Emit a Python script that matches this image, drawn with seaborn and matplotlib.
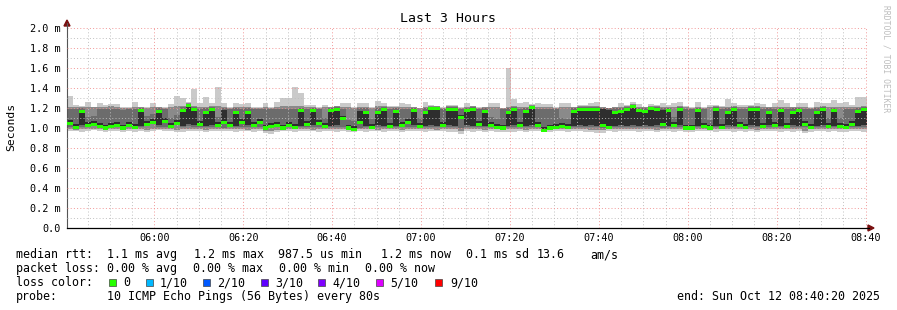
import numpy as np
import matplotlib
matplotlib.use("Agg")
import matplotlib.pyplot as plt
import seaborn as sns
from matplotlib.patches import Rectangle, Polygon
from matplotlib.lines import Line2D

# ---------------- data (ms), one value per 80 s step, 05:40:20 .. 08:40:20 ----------------
START = 20420          # 05:40:20 as seconds of day
STEP = 80

rtt_median = [
    1.05,1.01,1.17,1.03,1.04,1.02,1.00,1.02,1.03,1.00,1.03,1.01,1.18,1.04,1.06,1.17,1.07,1.02,1.05,1.18,1.23,1.19,1.04,1.16,1.19,1.03,1.06,
    1.03,1.16,1.06,1.16,1.03,1.06,1.00,1.02,1.03,1.00,1.03,1.01,1.18,1.04,1.18,1.05,1.02,1.18,1.19,1.10,1.00,0.99,1.06,1.16,1.01,1.16,1.19,
    1.02,1.17,1.03,1.06,1.18,1.02,1.16,1.20,1.20,1.03,1.19,1.19,1.11,1.18,1.19,1.04,1.17,1.03,1.01,1.00,1.16,1.19,1.03,1.17,1.21,1.03,0.98,
    1.00,1.01,1.02,1.01,1.17,1.19,1.19,1.19,1.19,1.03,1.01,1.16,1.17,1.19,1.22,1.18,1.17,1.20,1.19,1.04,1.18,1.03,1.19,1.00,1.00,1.18,1.02,
    1.00,1.19,1.01,1.16,1.19,1.03,1.01,1.19,1.19,1.02,1.16,1.03,1.18,1.02,1.16,1.18,1.04,1.01,1.16,1.19,1.02,1.18,1.02,1.01,1.04,1.17,1.19]

ping_max = [
    1.32,1.23,1.22,1.26,1.21,1.25,1.23,1.24,1.24,1.21,1.21,1.26,1.21,1.21,1.25,1.21,1.21,1.24,1.32,1.30,1.26,1.39,1.25,1.31,1.25,1.41,1.25,
    1.21,1.25,1.24,1.25,1.21,1.21,1.25,1.21,1.26,1.30,1.30,1.41,1.35,1.23,1.23,1.21,1.23,1.21,1.22,1.25,1.25,1.21,1.25,1.25,1.21,1.27,1.25,
    1.22,1.22,1.25,1.24,1.21,1.20,1.26,1.23,1.22,1.21,1.23,1.23,1.21,1.25,1.22,1.21,1.21,1.25,1.25,1.20,1.60,1.29,1.25,1.26,1.24,1.25,1.24,
    1.24,1.21,1.25,1.25,1.21,1.23,1.23,1.25,1.26,1.21,1.20,1.21,1.25,1.23,1.26,1.24,1.21,1.24,1.23,1.25,1.23,1.25,1.26,1.22,1.21,1.26,1.21,
    1.23,1.23,1.22,1.29,1.25,1.23,1.23,1.23,1.25,1.24,1.21,1.25,1.28,1.25,1.21,1.25,1.25,1.21,1.26,1.25,1.25,1.28,1.25,1.26,1.23,1.31,1.31]

ping_min = [
    0.97,0.97,0.96,0.97,0.98,0.97,0.96,0.97,0.97,0.96,0.97,0.96,0.97,0.96,0.97,0.98,0.97,0.97,0.96,0.96,0.97,0.97,0.97,0.96,0.97,0.97,0.97,
    0.97,0.96,0.97,0.97,0.96,0.97,0.95,0.94,0.96,0.97,0.97,0.96,0.97,0.97,0.97,0.96,0.97,0.97,0.96,0.97,0.96,0.96,0.97,0.96,0.97,0.97,0.96,
    0.97,0.97,0.96,0.97,0.97,0.97,0.96,0.97,0.97,0.97,0.96,0.96,0.94,0.97,0.96,0.97,0.96,0.97,0.96,0.96,0.96,0.96,0.97,0.96,0.97,0.97,0.96,
    0.96,0.97,0.97,0.96,0.97,0.97,0.96,0.96,0.95,0.95,0.97,0.96,0.97,0.97,0.97,0.96,0.97,0.97,0.96,0.97,0.97,0.96,0.97,0.96,0.96,0.97,0.97,
    0.97,0.96,0.97,0.97,0.96,0.97,0.96,0.97,0.96,0.97,0.97,0.97,0.96,0.97,0.96,0.97,0.95,0.96,0.97,0.97,0.96,0.97,0.96,0.96,0.97,0.97,0.96]

mid_lo = [
    0.99,0.98,0.99,0.99,0.99,0.99,0.98,0.99,0.99,0.98,0.99,0.99,0.99,0.98,0.99,0.99,0.99,0.99,0.98,0.99,0.99,0.99,0.99,0.98,0.99,0.99,0.99,
    0.99,0.99,0.99,0.98,0.99,0.99,0.97,0.97,0.98,0.98,0.99,0.99,0.99,0.99,0.98,0.99,0.99,0.99,0.99,0.99,0.98,0.98,0.99,0.99,0.99,0.98,0.99,
    0.99,0.99,0.98,0.99,0.99,0.99,0.99,0.99,0.98,0.99,0.99,0.99,0.97,0.99,0.99,0.99,0.98,0.99,0.99,0.98,0.99,0.99,0.99,0.98,0.99,0.99,0.98,
    0.98,0.99,0.99,0.99,0.99,0.99,0.99,0.98,0.98,0.98,0.99,0.99,0.99,0.99,0.99,0.99,0.99,0.99,0.98,0.99,0.99,0.99,0.99,0.98,0.98,0.99,0.99,
    0.98,0.99,0.99,0.99,0.99,0.99,0.99,0.99,0.98,0.99,0.99,0.99,0.99,0.99,0.99,0.99,0.97,0.99,0.99,0.99,0.99,0.99,0.99,0.99,0.99,0.99,0.99]

mid_hi = [
    1.21,1.21,1.21,1.21,1.21,1.21,1.21,1.22,1.21,1.20,1.20,1.21,1.21,1.20,1.21,1.21,1.20,1.21,1.22,1.22,1.25,1.22,1.21,1.21,1.22,1.22,1.21,
    1.20,1.21,1.21,1.21,1.20,1.20,1.21,1.20,1.21,1.22,1.22,1.22,1.22,1.21,1.21,1.20,1.21,1.21,1.22,1.21,1.21,1.20,1.21,1.21,1.20,1.22,1.22,
    1.21,1.21,1.21,1.21,1.21,1.20,1.21,1.22,1.22,1.20,1.22,1.22,1.20,1.21,1.22,1.20,1.21,1.21,1.21,1.20,1.21,1.22,1.21,1.21,1.23,1.21,1.21,
    1.21,1.20,1.21,1.21,1.21,1.22,1.22,1.22,1.22,1.21,1.20,1.21,1.21,1.22,1.24,1.21,1.21,1.22,1.22,1.21,1.21,1.21,1.22,1.21,1.20,1.21,1.20,
    1.21,1.22,1.21,1.21,1.22,1.21,1.21,1.22,1.22,1.21,1.21,1.21,1.21,1.21,1.21,1.21,1.21,1.20,1.21,1.22,1.21,1.21,1.21,1.21,1.21,1.21,1.22]

inner_lo = [
    1.01,1.00,1.01,1.02,1.03,1.01,0.99,1.01,1.01,0.99,1.01,1.00,1.01,1.03,1.05,1.01,1.01,1.01,1.04,1.01,1.02,1.01,1.01,1.01,1.01,1.02,1.00,
    1.01,1.01,1.01,1.01,1.01,1.01,0.99,1.00,1.01,0.99,1.01,1.00,1.01,1.01,1.01,1.01,1.01,1.01,1.01,1.01,0.99,0.98,1.00,1.01,1.00,1.01,1.01,
    1.01,1.01,1.01,1.01,1.01,1.01,1.01,1.01,1.01,1.01,1.01,1.01,1.00,1.01,1.01,1.01,1.01,1.02,1.00,0.99,1.01,1.01,1.01,1.01,1.01,1.01,0.98,
    0.99,1.00,1.01,1.00,1.01,1.01,1.01,1.01,1.01,1.00,1.00,1.01,1.01,1.01,1.01,1.01,1.01,1.01,1.01,1.00,1.01,1.02,1.01,0.99,0.99,1.01,1.01,
    0.99,1.01,1.00,1.01,1.01,1.01,1.00,1.01,1.01,1.01,1.01,1.01,1.01,1.01,1.01,1.01,1.01,1.00,1.01,1.01,1.01,1.01,1.01,1.00,1.01,1.01,1.01]

inner_hi = [
    1.19,1.19,1.20,1.11,1.12,1.19,1.19,1.19,1.19,1.18,1.19,1.19,1.20,1.12,1.14,1.20,1.19,1.10,1.13,1.21,1.24,1.21,1.19,1.20,1.21,1.11,1.20,
    1.19,1.20,1.19,1.20,1.19,1.19,1.19,1.19,1.19,1.19,1.19,1.19,1.20,1.19,1.20,1.19,1.10,1.20,1.21,1.19,1.08,1.07,1.20,1.20,1.09,1.20,1.21,
    1.19,1.20,1.19,1.19,1.20,1.10,1.20,1.21,1.21,1.19,1.21,1.21,1.19,1.20,1.21,1.19,1.20,1.11,1.09,1.19,1.20,1.21,1.19,1.20,1.22,1.19,1.19,
    1.19,1.19,1.10,1.09,1.20,1.21,1.21,1.21,1.21,1.20,1.20,1.20,1.20,1.21,1.23,1.20,1.20,1.21,1.21,1.20,1.20,1.11,1.21,1.19,1.19,1.20,1.19,
    1.08,1.21,1.19,1.20,1.21,1.19,1.19,1.21,1.21,1.19,1.20,1.19,1.20,1.19,1.20,1.20,1.19,1.19,1.20,1.21,1.10,1.20,1.10,1.19,1.19,1.20,1.21]

core_lo = [
    1.04,1.00,1.03,1.03,1.04,1.01,0.99,1.01,1.02,0.99,1.02,1.00,1.02,1.04,1.06,1.03,1.06,1.02,1.05,1.02,1.04,1.03,1.03,1.02,1.03,1.03,1.05,
    1.02,1.02,1.05,1.03,1.02,1.05,0.99,1.01,1.02,0.99,1.02,1.00,1.02,1.03,1.03,1.04,1.02,1.02,1.03,1.08,1.00,0.99,1.04,1.02,1.01,1.03,1.02,
    1.01,1.02,1.02,1.05,1.03,1.02,1.02,1.03,1.02,1.02,1.03,1.02,1.09,1.03,1.02,1.03,1.02,1.03,1.01,0.99,1.02,1.03,1.02,1.02,1.03,1.02,0.98,
    0.99,1.00,1.02,1.01,1.02,1.03,1.02,1.03,1.02,1.02,1.00,1.02,1.03,1.02,1.03,1.02,1.03,1.02,1.03,1.03,1.02,1.03,1.03,0.99,0.99,1.02,1.01,
    1.00,1.02,1.00,1.03,1.02,1.02,1.00,1.03,1.02,1.01,1.03,1.02,1.02,1.01,1.03,1.02,1.03,1.00,1.02,1.03,1.02,1.02,1.02,1.00,1.03,1.02,1.03]

core_hi = [
    1.08,1.04,1.17,1.06,1.07,1.05,1.03,1.05,1.06,1.03,1.06,1.04,1.18,1.07,1.09,1.17,1.10,1.05,1.08,1.18,1.23,1.19,1.07,1.16,1.19,1.06,1.18,
    1.06,1.16,1.09,1.16,1.06,1.09,1.03,1.05,1.06,1.03,1.06,1.04,1.18,1.07,1.18,1.08,1.05,1.18,1.19,1.12,1.03,1.02,1.17,1.16,1.04,1.16,1.19,
    1.05,1.17,1.06,1.09,1.18,1.05,1.16,1.20,1.20,1.06,1.19,1.19,1.13,1.18,1.19,1.07,1.17,1.06,1.04,1.03,1.16,1.19,1.06,1.17,1.21,1.06,1.01,
    1.03,1.04,1.05,1.04,1.17,1.19,1.19,1.19,1.19,1.19,1.18,1.16,1.17,1.19,1.22,1.18,1.17,1.20,1.19,1.18,1.18,1.06,1.19,1.03,1.03,1.18,1.05,
    1.03,1.19,1.04,1.16,1.19,1.06,1.04,1.19,1.19,1.05,1.16,1.06,1.18,1.05,1.16,1.18,1.07,1.04,1.16,1.19,1.05,1.18,1.05,1.04,1.07,1.17,1.19]

y_ticks = [0.0, 0.2, 0.4, 0.6, 0.8, 1.0, 1.2, 1.4, 1.6, 1.8, 2.0]
y_labels = ["0.0", "0.2 m", "0.4 m", "0.6 m", "0.8 m", "1.0 m", "1.2 m", "1.4 m", "1.6 m", "1.8 m", "2.0 m"]
x_labels = ["06:00", "06:20", "06:40", "07:00", "07:20", "07:40", "08:00", "08:20", "08:40"]

legend_rows = [
    [(16, "median rtt:"), (107, "1.1 ms avg"), (194, "1.2 ms max"), (278, "987.5 us min"),
     (381, "1.2 ms now"), (466, "0.1 ms sd"), (537, "13.6"), (590, "am/s")],
    [(16, "packet loss:"), (107, "0.00 % avg"), (193, "0.00 % max"), (279, "0.00 % min"), (365, "0.00 % now")],
    [(16, "loss color:")],
    [(16, "probe:"), (107, "10 ICMP Echo Pings (56 Bytes) every 80s")],
]
loss_labels = ["0", "1/10", "2/10", "3/10", "4/10", "5/10", "9/10"]
loss_colors = ["#26ff00", "#00b8ff", "#0059ff", "#5e00ff", "#7e00ff", "#dd00ff", "#ff0000"]
loss_box_x = [109, 146, 203, 261, 318, 376, 435]
loss_text_x = [123, 160, 217, 275, 332, 390, 450]
end_text = "end: Sun Oct 12 08:40:20 2025"

# ---------------- figure ----------------
sns.set_theme(style="white")
plt.rcParams['font.family'] = ['DejaVu Sans Mono', 'DejaVu Sans']

W, H = 897, 310
fig = plt.figure(figsize=(W / 100, H / 100), dpi=100)
fig.patch.set_facecolor("white")

def fx(x):
    return x / W

def fy(y):
    return 1 - y / H

ax = fig.add_axes([fx(67), fy(228), 800 / W, 200 / H])
ax.set_facecolor("white")

n = len(rtt_median)
edges = START + STEP * np.arange(n + 1)

def ext(a):
    a = np.asarray(a, dtype=float)
    return np.append(a, a[-1])

bands = [(ping_min, ping_max, "#cacaca"),
         (mid_lo, mid_hi, "#8a8a8a"),
         (inner_lo, inner_hi, "#6c6c6c"),
         (core_lo, core_hi, "#2e2e2e")]
for lo, hi, col in bands:
    ax.fill_between(edges, ext(lo), ext(hi), step="post", color=col, linewidth=0, zorder=1)

med = np.asarray(rtt_median)
ax.bar(edges[:-1], 0.03, bottom=med - 0.015, width=STEP, align="edge",
       color="#26ff00", linewidth=0, zorder=3)

ax.set_xlim(START, START + n * STEP)
ax.set_ylim(0, 2.0)

major_x = [21600 + 1200 * k for k in range(len(x_labels))]
minor_x = [t for t in range(20700, START + n * STEP + 1, 300) if t not in major_x]
ax.set_xticks(major_x)
ax.set_xticklabels(x_labels)
ax.set_xticks(minor_x, minor=True)
ax.set_yticks(y_ticks)
ax.set_yticklabels(y_labels)
ax.set_yticks([0.1 + 0.2 * k for k in range(10)], minor=True)

ax.set_axisbelow(False)
ax.grid(which="major", color="#f08c8c", alpha=0.85, linestyle=(0, (1, 2.2)), linewidth=0.72)
ax.grid(which="minor", color="#bdbdbd", alpha=0.9, linestyle=(0, (1, 2.2)), linewidth=0.72)

ax.tick_params(axis="both", which="both", length=0, labelsize=7.3, colors="#000000")
ax.tick_params(axis="x", pad=3.5)
ax.tick_params(axis="y", pad=4.3)

for s in ["top", "right"]:
    ax.spines[s].set_visible(False)
ax.spines["left"].set_color("#555555")
ax.spines["left"].set_linewidth(0.8)
ax.spines["bottom"].set_color("#000000")
ax.spines["bottom"].set_linewidth(0.9)

# axis extensions and arrow heads
fig.add_artist(Line2D([fx(67), fx(67)], [fy(28), fy(23)], color="#555555", lw=0.8))
fig.add_artist(Line2D([fx(867), fx(869)], [fy(228), fy(228)], color="#000000", lw=0.9))
fig.add_artist(Polygon([(fx(64), fy(26)), (fx(70), fy(26)), (fx(67), fy(20))],
                       closed=True, color="#7a1010", transform=fig.transFigure))
fig.add_artist(Polygon([(fx(868), fy(225)), (fx(868), fy(231)), (fx(874), fy(228))],
                       closed=True, color="#7a1010", transform=fig.transFigure))

# titles / labels
fig.text(fx(448), fy(19), "Last 3 Hours", ha="center", va="center", fontsize=9.5, color="#000000")
fig.text(fx(11), fy(127), "Seconds", ha="center", va="center", rotation=90, fontsize=8.2, color="#000000")
fig.text(fx(886), fy(5), "RRDTOOL / TOBI OETIKER", ha="center", va="top", rotation=270,
         fontsize=5.8, color="#bdbdbd")

# legend block
baselines = [258, 272, 286, 300]
for row, yb in zip(legend_rows, baselines):
    for x, s in row:
        fig.text(fx(x), fy(yb), s, ha="left", va="baseline", fontsize=8.4, color="#000000")

for bx, tx, lab, col in zip(loss_box_x, loss_text_x, loss_labels, loss_colors):
    fig.add_artist(Rectangle((fx(bx), fy(286)), 7 / W, 7 / H, transform=fig.transFigure,
                             facecolor=col, edgecolor="#444444", linewidth=0.5))
    fig.text(fx(tx), fy(baselines[2]), lab, ha="left", va="baseline", fontsize=8.4, color="#000000")

fig.text(fx(880), fy(baselines[3]), end_text, ha="right", va="baseline", fontsize=8.4, color="#000000")

fig.savefig("out.png", dpi=100, facecolor="white")
